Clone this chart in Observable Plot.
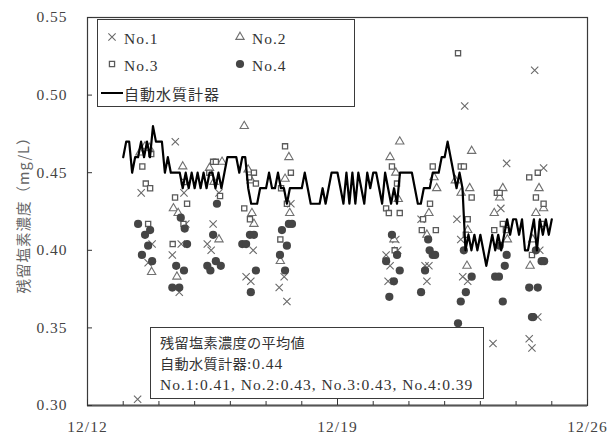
<!DOCTYPE html>
<html><head><meta charset="utf-8">
<script src="https://cdn.jsdelivr.net/npm/d3@7"></script>
<script src="https://cdn.jsdelivr.net/npm/@observablehq/plot@0.6"></script>
<style>
body{margin:0;background:#fff;}
#wrap{position:relative;width:610px;height:434px;font-family:'Liberation Serif','Noto Sans CJK JP',serif;color:#333;overflow:hidden;}
#wrap > svg{position:absolute;left:0;top:0;}
.box{position:absolute;border:1.3px solid #3a3a3a;background:#fff;box-sizing:border-box;}
.lg{position:absolute;font-size:15.5px;letter-spacing:1px;line-height:1;white-space:nowrap;transform:translateY(-50%);}
.ic{position:absolute;transform:translate(-50%,-50%);}
#note{font-size:15.5px;letter-spacing:1px;line-height:21px;padding:4px 0 0 9px;color:#333;}
.jp{font-family:'Noto Sans CJK JP',sans-serif;font-size:14.2px;letter-spacing:0.3px;}
</style></head>
<body><div id="wrap"></div>
<script>
// ---- data ----
const seriesNames = ["No.1", "No.2", "No.3", "No.4"];
const monitorName = "自動水質計器";
const yLabel = "残留塩素濃度（mg/L）";
const xTickLabels = ["12/12", "12/19", "12/26"];
const yTickValues = [0.30, 0.35, 0.40, 0.45, 0.50, 0.55];
const noteTitle = "残留塩素濃度の平均値";
const noteMonitor = ["自動水質計器", ":0.44"];
const noteSeries = "No.1:0.41, No.2:0.43, No.3:0.43, No.4:0.39";

const no1 = [
["12/13 09:40",0.304],["12/13 12:05",0.437],["12/13 16:45",0.392],["12/13 19:25",0.404],
["12/14 09:00",0.397],["12/14 11:00",0.470],["12/14 13:40",0.373],["12/14 15:00",0.404],["12/14 16:50",0.437],["12/14 18:05",0.417],
["12/15 08:30",0.404],["12/15 11:05",0.400],["12/15 12:25",0.417],["12/15 16:20",0.437],
["12/16 10:35",0.383],["12/16 13:45",0.380],["12/16 15:20",0.400],
["12/17 08:50",0.376],["12/17 12:10",0.383],["12/17 14:00",0.367],["12/17 16:40",0.430],
["12/20 08:40",0.397],["12/20 10:00",0.380],["12/20 11:20",0.390],["12/20 15:10",0.407],["12/20 16:30",0.400],
["12/21 08:10",0.420],["12/21 10:50",0.390],["12/21 12:05",0.380],["12/21 13:25",0.390],
["12/22 08:15",0.420],["12/22 10:50",0.407],["12/22 12:10",0.383],["12/22 13:30",0.493],["12/22 15:30",0.380],
["12/23 08:30",0.340],["12/23 13:45",0.427],["12/23 17:40",0.456],
["12/24 08:50",0.343],["12/24 10:40",0.337],["12/24 12:30",0.516],["12/24 14:35",0.357],["12/24 15:55",0.400],["12/24 18:30",0.453]
];
const no2 = [
["12/13 11:15",0.463],["12/13 14:40",0.467],["12/13 17:30",0.466],["12/13 19:05",0.386],
["12/14 09:45",0.427],["12/14 12:05",0.383],["12/14 12:55",0.424],["12/14 16:00",0.454],
["12/15 10:00",0.453],["12/15 13:00",0.444],["12/15 16:20",0.407],["12/15 18:25",0.457],
["12/16 09:20",0.480],["12/16 11:55",0.452],["12/16 14:00",0.445],["12/16 14:30",0.424],["12/16 15:50",0.417],
["12/17 09:35",0.393],["12/17 12:45",0.446],["12/17 15:20",0.460],["12/17 15:55",0.424],
["12/20 11:20",0.460],["12/20 13:55",0.407],["12/20 15:10",0.450],["12/20 16:50",0.433],["12/20 17:50",0.470],
["12/21 12:05",0.410],["12/21 13:25",0.424],["12/21 16:50",0.447],["12/21 18:40",0.440],
["12/22 07:10",0.445],["12/22 11:05",0.437],["12/22 15:00",0.390],["12/22 15:30",0.413],["12/22 16:50",0.440],["12/22 18:10",0.464],
["12/23 09:20",0.424],["12/23 13:00",0.434],["12/23 15:05",0.440],["12/23 18:10",0.407],
["12/24 09:25",0.390],["12/24 11:10",0.407],["12/24 13:20",0.424],["12/24 15:25",0.440],["12/24 18:30",0.427]
];
const no3 = [
["12/13 12:50",0.454],["12/13 15:10",0.443],["12/13 16:45",0.417],["12/13 18:05",0.440],["12/13 18:50",0.462],
["12/14 09:15",0.404],["12/14 10:50",0.434],["12/14 16:30",0.417],["12/14 16:50",0.444],["12/14 18:55",0.430],
["12/15 09:50",0.450],["12/15 12:25",0.457],["12/15 14:15",0.457],["12/15 17:05",0.435],
["12/16 09:20",0.427],["12/16 12:40",0.447],["12/16 13:10",0.420],["12/16 15:50",0.450],["12/16 17:10",0.443],
["12/17 09:35",0.407],["12/17 10:05",0.440],["12/17 12:45",0.467],["12/17 14:00",0.430],["12/17 16:40",0.450],
["12/20 08:40",0.427],["12/20 10:30",0.424],["12/20 12:35",0.454],["12/20 14:25",0.400],["12/20 16:00",0.443],["12/20 17:50",0.424],
["12/21 08:40",0.413],["12/21 09:30",0.420],["12/21 14:10",0.430],["12/21 16:00",0.454],["12/21 18:05",0.413],
["12/22 09:00",0.527],["12/22 10:50",0.454],["12/22 12:55",0.454],["12/22 14:15",0.410],["12/22 15:30",0.420],["12/22 18:10",0.434],
["12/23 09:20",0.413],["12/23 11:05",0.437],["12/23 13:00",0.437],["12/23 15:05",0.417],["12/23 17:10",0.413],
["12/24 08:50",0.447],["12/24 10:40",0.397],["12/24 13:20",0.434],["12/24 14:35",0.450],["12/24 17:10",0.417],["12/24 18:30",0.430]
];
const no4 = [
["12/13 10:00",0.417],["12/13 12:35",0.397],["12/13 14:40",0.410],["12/13 16:45",0.403],["12/13 18:05",0.413],["12/13 19:25",0.393],
["12/14 09:00",0.376],["12/14 11:35",0.390],["12/14 13:40",0.376],["12/14 14:40",0.421],["12/14 16:50",0.387],["12/14 17:20",0.414],["12/14 18:55",0.404],
["12/15 08:30",0.390],["12/15 10:35",0.387],["12/15 12:25",0.410],["12/15 14:15",0.393],["12/15 15:00",0.430],["12/15 17:35",0.390],
["12/16 08:00",0.404],["12/16 10:35",0.404],["12/16 13:10",0.410],["12/16 13:45",0.373],["12/16 15:50",0.410],["12/16 17:10",0.387],
["12/17 09:20",0.397],["12/17 10:40",0.413],["12/17 12:45",0.387],["12/17 14:00",0.403],["12/17 15:20",0.417],["12/17 17:25",0.417],
["12/20 08:40",0.393],["12/20 10:50",0.370],["12/20 12:35",0.410],["12/20 13:55",0.380],["12/20 16:00",0.397],["12/20 17:50",0.387],
["12/21 08:10",0.373],["12/21 10:50",0.387],["12/21 12:55",0.407],["12/21 13:55",0.400],["12/21 16:00",0.397],["12/21 17:35",0.397],
["12/22 09:00",0.353],["12/22 10:50",0.367],["12/22 12:55",0.400],["12/22 14:15",0.373],["12/22 18:10",0.383],
["12/23 09:55",0.383],["12/23 12:30",0.383],["12/23 13:00",0.403],["12/23 15:05",0.367],["12/23 16:25",0.390],["12/23 17:40",0.397],
["12/24 08:50",0.376],["12/24 10:40",0.357],["12/24 11:30",0.357],["12/24 13:20",0.400],["12/24 14:35",0.376],["12/24 17:10",0.393],["12/24 18:50",0.393]
];

// automatic analyser, one reading every 2 hours from 12/13 00:00
const monitorStart = "12/13 00:00";
const monitorStepHours = 2;
const monitorValues = [
0.46,0.47,0.47,0.45,0.46,0.46,0.47,0.46,0.47,0.46,0.48,0.47,
0.47,0.47,0.45,0.46,0.45,0.45,0.45,0.45,0.44,0.45,0.44,0.45,
0.44,0.45,0.44,0.45,0.44,0.45,0.45,0.44,0.45,0.44,0.45,0.46,
0.46,0.46,0.46,0.45,0.46,0.46,0.44,0.43,0.43,0.43,0.44,0.44,
0.44,0.45,0.44,0.44,0.45,0.44,0.44,0.43,0.44,0.44,0.44,0.44,
0.44,0.45,0.44,0.43,0.43,0.43,0.43,0.44,0.43,0.44,0.45,0.45,
0.45,0.44,0.43,0.45,0.43,0.45,0.43,0.45,0.44,0.43,0.45,0.44,
0.45,0.45,0.44,0.43,0.45,0.44,0.43,0.44,0.43,0.45,0.45,0.45,
0.45,0.45,0.44,0.43,0.43,0.44,0.44,0.44,0.45,0.45,0.45,0.46,
0.46,0.47,0.46,0.45,0.44,0.45,0.44,0.40,0.41,0.40,0.41,0.40,
0.41,0.40,0.39,0.40,0.41,0.40,0.41,0.40,0.41,0.42,0.41,0.42,
0.42,0.41,0.42,0.40,0.40,0.41,0.42,0.40,0.42,0.41,0.42,0.41,
0.42
];

// ---- build ----
const YEAR = "2022/";
const parse = d3.utcParse("%Y/%m/%d %H:%M");
const rows = arr => arr.map(([t, v]) => ({t: parse(YEAR + t), v}));
const t0 = parse(YEAR + monitorStart);
const monitor = monitorValues.map((v, i) => ({t: d3.utcHour.offset(t0, i * monitorStepHours), v}));
const labelDays = xTickLabels.map(s => parse(YEAR + s + " 00:00"));
const xDomain = [labelDays[0], labelDays[labelDays.length - 1]];
const dayTicks = d3.utcDay.range(xDomain[0], d3.utcDay.offset(xDomain[1], 1));

const W = 610, H = 434, mL = 87, mR = 23, mT = 17, mB = 29;
const pw = W - mL - mR, ph = H - mT - mB;
const FONT = "'Liberation Serif','Noto Sans CJK JP',serif";

const sty = {
  "No.1": {symbol: "times", r: 3.4, stroke: "#6a6a6a", fill: "none", strokeWidth: 1.1},
  "No.2": {symbol: "triangle", r: 3.1, stroke: "#707070", fill: "white", strokeWidth: 1.1},
  "No.3": {symbol: "square", r: 2.9, stroke: "#5a5a5a", fill: "white", strokeWidth: 1.3},
  "No.4": {symbol: "circle", r: 4.1, stroke: "none", fill: "#454545", strokeWidth: 0}
};
const data = {"No.1": no1, "No.2": no2, "No.3": no3, "No.4": no4};

const chart = Plot.plot({
  width: W, height: H, marginLeft: mL, marginRight: mR, marginTop: mT, marginBottom: mB,
  style: {fontFamily: FONT, fontSize: "15.5px", letterSpacing: "1px", color: "#444", background: "transparent"},
  x: {type: "utc", domain: xDomain},
  y: {domain: [yTickValues[0], yTickValues[yTickValues.length - 1]]},
  marks: [
    ...seriesNames.map(n => Plot.dot(rows(data[n]), {x: "t", y: "v", ...sty[n]})),
    Plot.line(monitor, {x: "t", y: "v", stroke: "#000", strokeWidth: 2.2}),
    Plot.frame({stroke: "#3a3a3a", strokeWidth: 1.2}),
    Plot.ruleY([yTickValues[0]], {stroke: "#555", strokeWidth: 2}),
    Plot.tickX(dayTicks, {x: d => d, insetTop: ph - 4, stroke: "#333"}),
    Plot.tickX(labelDays, {x: d => d, insetTop: ph - 6, stroke: "#333"}),
    Plot.tickY(yTickValues, {y: d => d, insetRight: pw - 5, stroke: "#333"}),
    Plot.axisX(labelDays, {tickFormat: d3.utcFormat("%m/%d"), tickSize: 0, tickPadding: 15, label: null, fill: "#444"}),
    Plot.axisY(yTickValues, {tickFormat: d => d.toFixed(2), tickSize: 0, tickPadding: 20, label: null, fill: "#444"}),
    Plot.text([yLabel], {frameAnchor: "left", textAnchor: "middle", rotate: -90, dx: -63, fill: "#666", fontSize: 14.5, fontFamily: "'Noto Sans CJK JP',sans-serif"})
  ]
});
const wrap = document.getElementById("wrap");
wrap.appendChild(chart);

// ---- legend (overlay box) ----
function iconSvg(n) {
  const s = sty[n];
  const sym = {times: d3.symbolTimes, triangle: d3.symbolTriangle, square: d3.symbolSquare, circle: d3.symbolCircle}[s.symbol];
  const p = d3.symbol(sym, Math.PI * s.r * s.r)();
  return `<svg width="12" height="12" viewBox="-6 -6 12 12"><path d="${p}" fill="${s.fill}" stroke="${s.stroke}" stroke-width="${s.strokeWidth}"/></svg>`;
}
const legend = document.createElement("div");
legend.className = "box";
Object.assign(legend.style, {left: "97px", top: "19px", width: "258px", height: "88px"});
wrap.appendChild(legend);
const cols = [14, 142], rowsY = [18, 45];
seriesNames.forEach((n, i) => {
  const cx = cols[i % 2], cy = rowsY[Math.floor(i / 2)];
  const ic = document.createElement("div");
  ic.className = "ic"; ic.style.left = cx + "px"; ic.style.top = cy + "px"; ic.innerHTML = iconSvg(n);
  legend.appendChild(ic);
  const tx = document.createElement("div");
  tx.className = "lg"; tx.style.left = (cx + 12) + "px"; tx.style.top = (cy + 1) + "px"; tx.textContent = n;
  legend.appendChild(tx);
});
const ln = document.createElement("div");
Object.assign(ln.style, {position: "absolute", left: "3px", top: "72px", width: "22px", height: "2.2px", background: "#000"});
legend.appendChild(ln);
const lt = document.createElement("div");
lt.className = "lg"; lt.style.left = "26px"; lt.style.top = "73px";
lt.style.fontFamily = "'Noto Sans CJK JP',sans-serif"; lt.style.fontSize = "15px"; lt.style.letterSpacing = "1px";
lt.textContent = monitorName;
legend.appendChild(lt);

// ---- averages note ----
const note = document.createElement("div");
note.className = "box"; note.id = "note";
Object.assign(note.style, {left: "150px", top: "327px", width: "334px", height: "72px"});
note.innerHTML = `<div class="jp">${noteTitle}</div><div><span class="jp">${noteMonitor[0]}</span>${noteMonitor[1]}</div><div>${noteSeries}</div>`;
wrap.appendChild(note);
</script></body></html>
